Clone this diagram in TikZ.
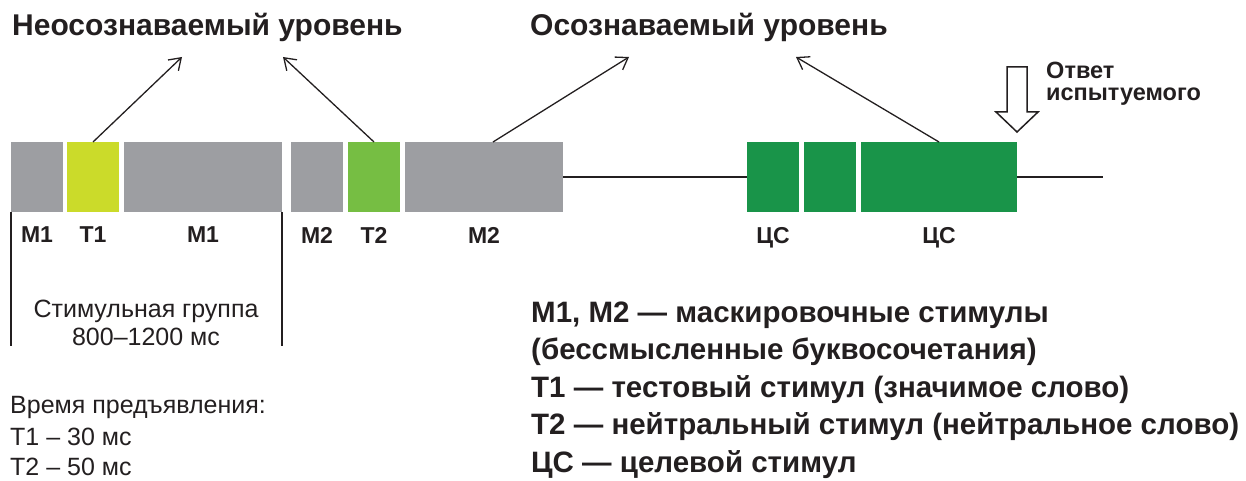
\documentclass[tikz,border=0pt]{standalone}
\usepackage{fontspec}
\setmainfont{Liberation Sans}
\usetikzlibrary{positioning,calc,arrows.meta}

\definecolor{maskgrey}{RGB}{157,158,162}
\definecolor{testlime}{RGB}{203,219,42}
\definecolor{neutgreen}{RGB}{118,190,67}
\definecolor{targetgreen}{RGB}{25,148,73}
\definecolor{ink}{RGB}{35,31,32}

\tikzset{
  blk/.style={inner sep=0pt, outer sep=0pt, minimum height=70pt},
  lbl/.style={font=\bfseries\fontsize{23}{27}\selectfont, text=ink, inner sep=0pt, anchor=base},
  headline/.style={font=\bfseries\fontsize{30}{36}\selectfont, text=ink, inner sep=0pt, anchor=base west},
  legend/.style={font=\bfseries\fontsize{29.5}{35}\selectfont, text=ink, inner sep=0pt, anchor=base west},
  plain/.style={font=\fontsize{25}{30}\selectfont, text=ink, inner sep=0pt},
  ptr/.style={ink, line width=1.3pt, -{Straight Barb[length=11pt,width=15pt]}},
  wire/.style={ink, line width=1.5pt}
}

\begin{document}
\begin{tikzpicture}[x=1pt, y=-1pt]
\useasboundingbox (0,0) rectangle (1246,481);

% stimuli on the time line
\foreach \n/\l/\r/\c in {m1a/11/63/maskgrey, t1/67/119/testlime, m1b/124/282/maskgrey,
    m2a/291/343/maskgrey, t2/348/400/neutgreen, m2b/405/563/maskgrey,
    cs1/747/799/targetgreen, cs2/804/856/targetgreen, cs3/861/1017/targetgreen} {
  \node[blk, fill=\c, minimum width={(\r-\l)*1pt}] (\n) at ({(\l+\r)/2},177) {};
}
\coordinate (tail) at (1103,177);
\draw[wire] (m2b.east) -- (cs1.west);
\draw[wire] (cs3.east) -- (tail);

\foreach \n/\t/\y in {m1a/М1/242, t1/Т1/242, m1b/М1/242, m2a/М2/243, t2/Т2/243,
    m2b/М2/243, cs1/ЦС/243, cs3/ЦС/243} {
  \node[lbl] (\n-lbl) at (\n |- 0,\y) {\t};
}

% stimulus group bracket
\coordinate (grpl) at (11,346);
\coordinate (grpr) at (282,346);
\draw[wire] (m1a.south west) -- (grpl);
\draw[wire] (m1b.south east) -- (grpr);
\node[plain, anchor=base] (grp1) at (146,317) {Стимульная группа};
\node[plain, anchor=base] (grp2) at (146,345) {800–1200 мс};

% levels
\node[headline] (unconsc) at (12,36) {Неосознаваемый уровень};
\node[headline] (consc) at (530,36) {Осознаваемый уровень};
\coordinate (u1) at (182,57);
\coordinate (u2) at (283,57);
\coordinate (c1) at (629,57);
\coordinate (c2) at (796,57);
\draw[ptr] (t1.north) -- (u1);
\draw[ptr] (t2.north) -- (u2);
\draw[ptr] ($(m2b.north)+(9,0)$) -- (c1);
\draw[ptr] (cs3.north) -- (c2);

% response
\draw[ink, line width=1.5pt, fill=white] (1007,67) -- (1027,67) -- (1027,112) -- (1038,112)
  -- (1017,132) -- (996,112) -- (1007,112) -- cycle;
\node[lbl, anchor=base west, font=\bfseries\fontsize{23.5}{28}\selectfont] (resp1) at (1046,79) {Ответ};
\node[lbl, anchor=base west, font=\bfseries\fontsize{23.5}{28}\selectfont] (resp2) at (1046,101) {испытуемого};

% exposure times
\node[plain, anchor=base west] (time0) at (10,413) {Время предъявления:};
\node[plain, anchor=base west] (time1) at (10,445) {Т1 – 30 мс};
\node[plain, anchor=base west] (time2) at (10,475) {Т2 – 50 мс};

% legend
\foreach \t [count=\i] in {{М1, М2 — маскировочные стимулы}, {(бессмысленные буквосочетания)},
    {Т1 — тестовый стимул (значимое слово)}, {Т2 — нейтральный стимул (нейтральное слово)},
    {ЦС — целевой стимул}} {
  \node[legend] (leg\i) at (531,{322+37.5*(\i-1)}) {\t};
}
\end{tikzpicture}
\end{document}
